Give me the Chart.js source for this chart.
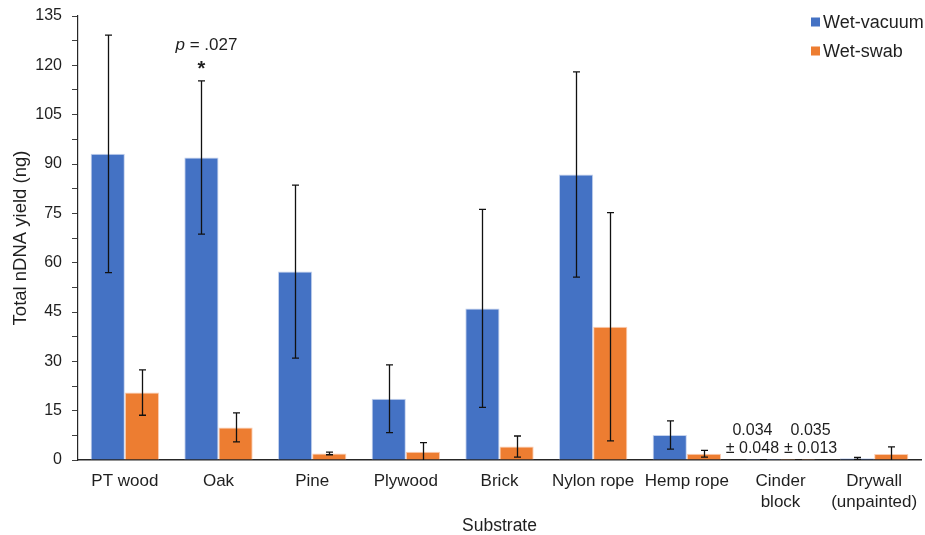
<!DOCTYPE html>
<html>
<head>
<meta charset="utf-8">
<script src="https://cdn.jsdelivr.net/npm/chart.js@4"></script>
<style>
  html, body { margin: 0; padding: 0; background: #fff; }
  #wrap { width: 925px; height: 535px; position: relative; }
</style>
</head>
<body>
<div id="wrap"><canvas id="c" width="925" height="535"></canvas></div>
<script>
// Substrates sampled
const categories = ['PT wood', 'Oak', 'Pine', 'Plywood', 'Brick', 'Nylon rope', 'Hemp rope', ['Cinder', 'block'], ['Drywall', '(unpainted)']];

// Mean total nDNA yield (ng) and standard deviation per collection method
const wetVacuum   = [93.1, 92.0, 57.3, 18.6, 46.1, 86.8, 7.6, 0.034, 0.5];
const wetVacuumSD = [36.1, 23.3, 26.3, 10.3, 30.1, 31.2, 4.3, 0.048, 0.3];
const wetSwab     = [20.5, 9.9, 2.0, 2.5, 4.1, 40.5, 1.9, 0.035, 1.8];
const wetSwabSD   = [6.9, 4.4, 0.4, 2.8, 3.2, 34.7, 1.0, 0.013, 2.2];

// Y axis range and tick spacing
const yMin = 0, yMax = 135, yStep = 7.5, yLabelEvery = 15;

const seriesNames = ['Wet-vacuum', 'Wet-swab'];
const seriesColors = ['#4472C4', '#ED7D31'];
const errors = [wetVacuumSD, wetSwabSD];

const FONT = '"Liberation Sans", Arial, sans-serif';
const TEXT = '#1f1f1f';

// Error bars drawn from the SD arrays through the y scale
const errorBarPlugin = {
  id: 'errorBars',
  afterDatasetsDraw(chart) {
    const { ctx, chartArea } = chart;
    const y = chart.scales.y;
    ctx.save();
    ctx.beginPath();
    ctx.rect(chartArea.left, chartArea.top - 20, chartArea.right - chartArea.left, chartArea.bottom - chartArea.top + 20);
    ctx.clip();
    ctx.strokeStyle = '#111';
    ctx.lineWidth = 1.3;
    chart.data.datasets.forEach((ds, di) => {
      const meta = chart.getDatasetMeta(di);
      meta.data.forEach((bar, i) => {
        const v = ds.data[i], e = errors[di][i];
        const yTop = y.getPixelForValue(v + e);
        const yBot = y.getPixelForValue(v - e);
        const x = Math.round(bar.x) + 0.5;
        const cap = 3.5;
        ctx.beginPath();
        ctx.moveTo(x, yTop); ctx.lineTo(x, yBot);
        ctx.moveTo(x - cap, yTop); ctx.lineTo(x + cap, yTop);
        ctx.moveTo(x - cap, yBot); ctx.lineTo(x + cap, yBot);
        ctx.stroke();
      });
    });
    ctx.restore();
  }
};

// Significance marker and small-value notes
const annotationPlugin = {
  id: 'notes',
  afterDraw(chart) {
    const { ctx } = chart;
    const y = chart.scales.y;
    const vac = chart.getDatasetMeta(0).data;
    const swab = chart.getDatasetMeta(1).data;
    ctx.save();
    ctx.fillStyle = TEXT;

    // Oak: p value and asterisk above the wet-vacuum error bar
    const oakX = vac[1].x;
    const oakTop = y.getPixelForValue(wetVacuum[1] + wetVacuumSD[1]);
    ctx.textBaseline = 'alphabetic';
    const pPart = 'p';
    const rest = ' = .027';
    ctx.font = 'italic 17px ' + FONT;
    const wP = ctx.measureText(pPart).width;
    ctx.font = '17px ' + FONT;
    const wR = ctx.measureText(rest).width;
    const startX = oakX + 5 - (wP + wR) / 2;
    const textY = oakTop - 31;
    ctx.font = 'italic 17px ' + FONT;
    ctx.textAlign = 'left';
    ctx.fillText(pPart, startX, textY);
    ctx.font = '17px ' + FONT;
    ctx.fillText(rest, startX + wP, textY);
    ctx.font = 'bold 20px ' + FONT;
    ctx.textAlign = 'center';
    ctx.fillText('*', oakX, oakTop - 6);

    // Cinder block: values too small to show as bars
    const base = y.getPixelForValue(0);
    ctx.font = '16px ' + FONT;
    ctx.textAlign = 'center';
    ctx.textBaseline = 'middle';
    const cx1 = vac[7].x - 11, cx2 = swab[7].x + 13;
    ctx.fillText(wetVacuum[7].toFixed(3), cx1, base - 29);
    ctx.fillText('\u00B1 ' + wetVacuumSD[7].toFixed(3), cx1, base - 11);
    ctx.fillText(wetSwab[7].toFixed(3), cx2, base - 29);
    ctx.fillText('\u00B1 ' + wetSwabSD[7].toFixed(3), cx2, base - 11);
    ctx.restore();
  }
};

// Legend in the top-right corner
const cornerLegend = {
  id: 'cornerLegend',
  afterDraw(chart) {
    const { ctx } = chart;
    ctx.save();
    const x0 = 811, rows = [22, 51];
    ctx.font = '18px ' + FONT;
    ctx.textAlign = 'left';
    ctx.textBaseline = 'middle';
    seriesNames.forEach((name, i) => {
      ctx.fillStyle = seriesColors[i];
      ctx.fillRect(x0, rows[i] - 4.5, 9, 9);
      ctx.fillStyle = TEXT;
      ctx.fillText(name, x0 + 12, rows[i] + 1);
    });
    ctx.restore();
  }
};

new Chart(document.getElementById('c'), {
  type: 'bar',
  data: {
    labels: categories,
    datasets: [
      { label: seriesNames[0], data: wetVacuum, backgroundColor: seriesColors[0], borderColor: 'rgba(190,205,235,0.9)', borderWidth: 1 },
      { label: seriesNames[1], data: wetSwab, backgroundColor: seriesColors[1], borderColor: 'rgba(250,200,170,0.9)', borderWidth: 1 }
    ]
  },
  options: {
    responsive: false,
    animation: false,
    events: [],
    layout: { padding: { top: 16, right: 4, left: 0, bottom: 0 } },
    datasets: { bar: { categoryPercentage: 0.73, barPercentage: 1.0 } },
    plugins: { legend: { display: false }, tooltip: { enabled: false } },
    scales: {
      x: {
        grid: { display: false, drawTicks: false },
        border: { display: true, color: '#262626', width: 1.5 },
        ticks: { color: TEXT, font: { family: FONT, size: 17, lineHeight: 1.28 }, padding: 10, maxRotation: 0, autoSkip: false },
        title: { display: true, text: 'Substrate', color: TEXT, font: { family: FONT, size: 17.5, lineHeight: 1 }, padding: { top: 0, bottom: 0 } },
        afterFit(scale) { scale.height = 75; scale.paddingLeft = 0; scale.paddingRight = 0; }
      },
      y: {
        min: yMin, max: yMax,
        grid: { drawOnChartArea: false, drawTicks: true, tickLength: 6, color: '#404040', lineWidth: 1 },
        border: { display: true, color: '#262626', width: 1.2 },
        ticks: {
          stepSize: yStep, color: TEXT, font: { family: FONT, size: 16 }, padding: 10,
          callback: (v) => (Math.abs(v % yLabelEvery) < 1e-9 ? String(v) : '')
        },
        title: { display: true, text: 'Total nDNA yield (ng)', color: TEXT, font: { family: FONT, size: 18.5, lineHeight: 1 }, padding: { top: 12, bottom: 0 } },
        afterFit(scale) { scale.width = 78; scale.paddingTop = 0; scale.paddingBottom = 0; }
      }
    }
  },
  plugins: [errorBarPlugin, annotationPlugin, cornerLegend]
});
</script>
</body>
</html>
